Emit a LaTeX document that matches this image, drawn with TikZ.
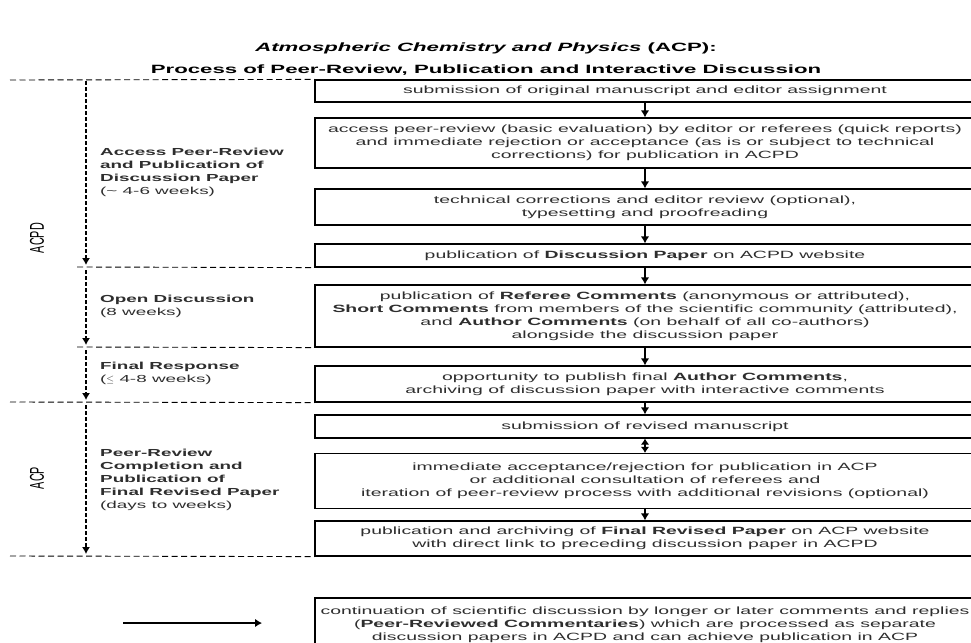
\documentclass[tikz,border=0pt]{standalone}
\usepackage{fontspec}
\setmainfont{Liberation Sans}[FakeStretch=1.85]
\newfontfamily\plainsans{Liberation Sans}
\usepackage{tikz}
\usetikzlibrary{arrows.meta,positioning,calc}
\definecolor{acptext}{HTML}{2E2E2E}

\begin{document}
\begin{tikzpicture}[x=1pt, y=-1pt,
    procbox/.style={draw=black, line width=1.2pt, minimum width=660pt, inner sep=3pt, align=center, text=acptext, font=\fontsize{10.5}{13}\selectfont},
    phase/.style={anchor=west, inner sep=0pt, align=left, text=acptext, font=\fontsize{10.2}{13}\selectfont},
    journal/.style={rotate=90, inner sep=0pt, text=black, font=\plainsans\fontsize{10.8}{13}\selectfont},
    sep/.style={draw=black, line width=0.9pt, dash pattern=on 6pt off 3.5pt},
    span/.style={draw=black, line width=1.1pt, dash pattern=on 4pt off 2pt, -{Latex[length=7pt,width=8pt]}},
    flow/.style={draw=black, line width=1.5pt, -{Latex[length=7pt,width=8.5pt]}}
]
    \useasboundingbox (0,0) rectangle (971,642);
    \fill[white] (0,0) rectangle (971,642);
    \clip (0,0) rectangle (971,642);

    % Title
    \node[font=\fontsize{12}{14}\selectfont\bfseries] (title1) at (486,48) {\textit{Atmospheric Chemistry and Physics} (ACP):};
    \node[font=\fontsize{12}{14}\selectfont\bfseries] (title2) at (486,70) {Process of Peer-Review, Publication and Interactive Discussion};

    % Process steps
    \node[procbox, minimum height=22pt] (b1) at (645,91) {submission of original manuscript and editor assignment};
    \node[procbox, minimum height=50pt] (b2) at (645,143) {access peer-review (basic evaluation) by editor or referees (quick reports)\\and immediate rejection or acceptance (as is or subject to technical\\corrections) for publication in ACPD};
    \node[procbox, minimum height=36pt] (b3) at (645,207) {technical corrections and editor review (optional),\\typesetting and proofreading};
    \node[procbox, minimum height=23pt] (b4) at (645,255.5) {publication of \textbf{Discussion Paper} on ACPD website};
    \node[procbox, minimum height=62pt] (b5) at (645,316) {publication of \textbf{Referee Comments} (anonymous or attributed),\\\textbf{Short Comments} from members of the scientific community (attributed),\\and \textbf{Author Comments} (on behalf of all co-authors)\\alongside the discussion paper};
    \node[procbox, minimum height=36pt] (b6) at (645,384) {opportunity to publish final \textbf{Author Comments},\\archiving of discussion paper with interactive comments};
    \node[procbox, minimum height=23pt] (b7) at (645,426.5) {submission of revised manuscript};
    \node[procbox, minimum height=55pt] (b8) at (645,481) {immediate acceptance/rejection for publication in ACP\\or additional consultation of referees and\\iteration of peer-review process with additional revisions (optional)};
    \node[procbox, minimum height=35pt] (b9) at (645,538.5) {publication and archiving of \textbf{Final Revised Paper} on ACP website\\with direct link to preceding discussion paper in ACPD};
    \node[procbox, minimum height=54pt] (b10) at (645,625) {continuation of scientific discussion by longer or later comments and replies\\(\textbf{Peer-Reviewed Commentaries}) which are processed as separate\\discussion papers in ACPD and can achieve publication in ACP};

    % Flow arrows
    \draw[flow] (b1) -- (b2);
    \draw[flow] (b2) -- (b3);
    \draw[flow] (b3) -- (b4);
    \draw[flow] (b4) -- (b5);
    \draw[flow] (b5) -- (b6);
    \draw[flow] (b6) -- (b7);
    \draw[flow, {Latex[length=6pt,width=8.5pt]}-{Latex[length=6pt,width=8.5pt]}] (b7) -- (b8);
    \draw[flow] (b8) -- (b9);

    % Phase separators
    \coordinate (sep0) at (10,80);
    \coordinate (sep1) at (77,267);
    \coordinate (sep2) at (77,347);
    \coordinate (sep3) at (10,402);
    \coordinate (sep4) at (10,556);
    \draw[sep] (sep0) -- (b1.north west);
    \draw[sep] (sep1) -- (b4.south west);
    \draw[sep] (sep2) -- (b5.south west);
    \draw[sep] (sep3) -- (b6.south west);
    \draw[sep] (sep4) -- (b9.south west);

    % Phase durations
    \coordinate (access start) at (86,81);
    \coordinate (access end) at (86,265);
    \coordinate (open start) at (86,270);
    \coordinate (open end) at (86,345);
    \coordinate (final start) at (86,350);
    \coordinate (final end) at (86,400);
    \coordinate (revised start) at (86,405);
    \coordinate (revised end) at (86,554);
    \draw[span] (access start) -- (access end);
    \draw[span] (open start) -- (open end);
    \draw[span] (final start) -- (final end);
    \draw[span] (revised start) -- (revised end);

    % Phase labels
    \node[phase] (access) at (100,172) {\textbf{Access Peer-Review}\\\textbf{and Publication of}\\\textbf{Discussion Paper}\\(\textasciitilde\ 4-6 weeks)};
    \node[phase] (open) at (100,306.5) {\textbf{Open Discussion}\\(8 weeks)};
    \node[phase] (final) at (100,373) {\textbf{Final Response}\\($\leq$ 4-8 weeks)};
    \node[phase] (revised) at (100,480) {\textbf{Peer-Review}\\\textbf{Completion and}\\\textbf{Publication of}\\\textbf{Final Revised Paper}\\(days to weeks)};

    % Journals
    \node[journal] (acpd) at (37,238) {\scalebox{1}[1.85]{ACPD}};
    \node[journal] (acp) at (37,478) {\scalebox{1}[1.85]{ACP}};

    % Later commentaries
    \coordinate (later tail) at (123,623);
    \coordinate (later head) at (262,623);
    \draw[flow, line width=1.2pt] (later tail) -- (later head);

\end{tikzpicture}
\end{document}
